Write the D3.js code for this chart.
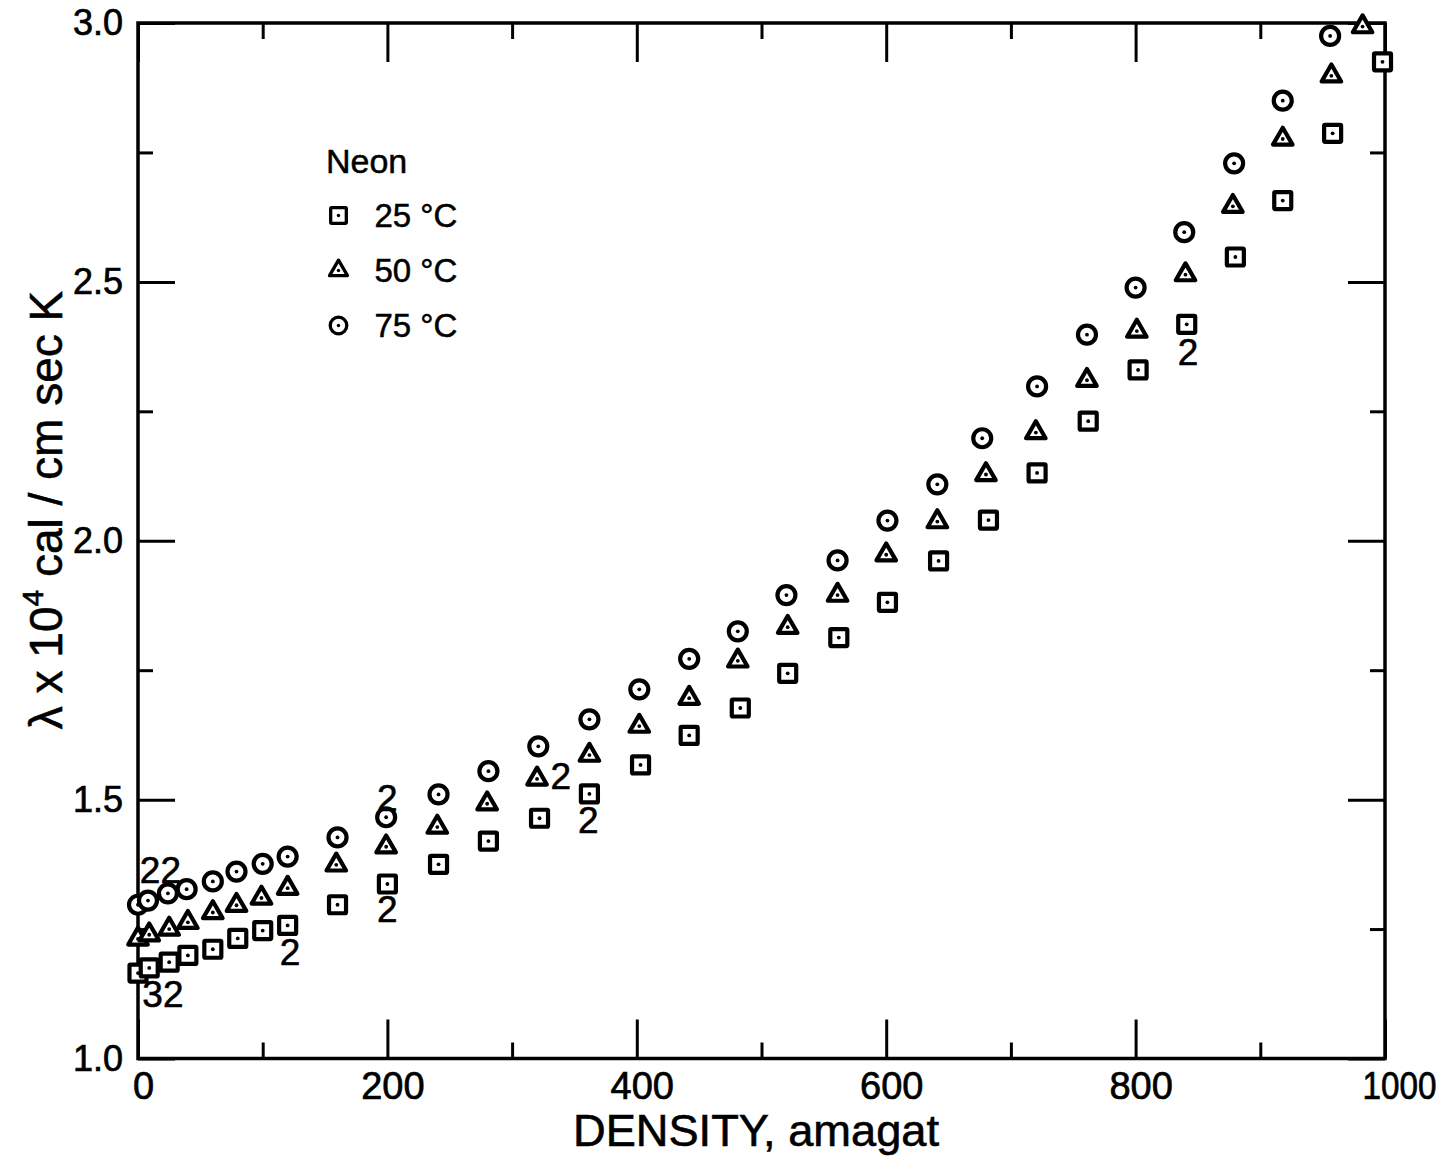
<!DOCTYPE html>
<html><head><meta charset="utf-8">
<script src="https://cdn.jsdelivr.net/npm/d3@7"></script>
<style>body{margin:0;background:#fff}</style>
</head><body>
<svg id="chart" width="1452" height="1161"></svg>
<script>
// ---- data ----
const density25 = [0,9,25,40,60,80,100,120,160,200,241,281,322,362,403,442,483,521,562,601,642,682,721,762,802,841,880,918,958,998];
const lambda25  = [1.165,1.175,1.186,1.199,1.211,1.232,1.247,1.257,1.297,1.337,1.375,1.420,1.464,1.511,1.567,1.624,1.677,1.744,1.813,1.881,1.961,2.040,2.131,2.231,2.330,2.418,2.548,2.657,2.787,2.925];
const density50 = [0,9,25,40,60,79,99,120,159,199,240,280,320,362,402,442,481,521,561,600,641,680,720,761,801,840,878,918,957,982];
const lambda50  = [1.231,1.239,1.250,1.263,1.282,1.296,1.310,1.329,1.374,1.409,1.447,1.492,1.540,1.586,1.642,1.696,1.768,1.833,1.895,1.973,2.037,2.128,2.209,2.310,2.405,2.514,2.646,2.776,2.898,2.993];
const density75 = [0,8,24,39,60,79,100,120,160,199,241,281,321,362,402,442,481,520,561,601,641,677,721,761,800,839,879,918,956];
const lambda75  = [1.297,1.305,1.319,1.327,1.342,1.361,1.376,1.390,1.427,1.466,1.510,1.555,1.603,1.655,1.713,1.772,1.825,1.895,1.962,2.039,2.109,2.198,2.298,2.398,2.489,2.596,2.729,2.850,2.975];

// multiplicity annotations: label, density, lambda
const noteLabels  = ["22","32","2","2","2","2","2","2"];
const noteDensity = [18,20,122,200,200,339,361,842];
const noteLambda  = [1.364,1.126,1.206,1.289,1.503,1.547,1.461,2.365];

const xTicksMajor = [0,200,400,600,800,1000];
const xTicksMinor = [100,300,500,700,900];
const yTicksMajor = [1.0,1.5,2.0,2.5,3.0];
const yTicksMinor = [1.25,1.75,2.25,2.75];
const xTickLabels = ["0","200","400","600","800","1000"];
const yTickLabels = ["1.0","1.5","2.0","2.5","3.0"];

const legendTitle = "Neon";
const seriesLabels = ["25 °C","50 °C","75 °C"];
const seriesShapes = ["square","triangle","circle"];
const xTitle = "DENSITY, amagat";

// ---- drawing ----
const svg = d3.select("#chart");
const L = 138, R = 1385, T = 23, B = 1058.5;
const x = d3.scaleLinear().domain([0,1000]).range([L,R]);
const y = d3.scaleLinear().domain([1,3]).range([B,T]);
const sans = "'Liberation Sans',Arial,sans-serif";

function styleAxis(g){
  g.select(".domain").remove();
  g.selectAll(".tick line").attr("stroke","#000").attr("stroke-width",3);
  g.selectAll("text").attr("fill","#000").attr("font-family",sans)
    .attr("stroke","#000").attr("stroke-width",0.7);
}
const fmtX = (d)=> xTickLabels[xTicksMajor.indexOf(d)];
const fmtY = (d)=> yTickLabels[yTicksMajor.findIndex(v=>Math.abs(v-d)<1e-9)];

// bottom
const bx = svg.append("g").attr("transform",`translate(0,${B})`)
  .call(d3.axisBottom(x).tickValues(xTicksMajor).tickSize(-39).tickPadding(14).tickFormat(fmtX)).call(styleAxis);
bx.selectAll("text").attr("font-size",38).attr("dx",5)
  .filter(d=>d===1000).attr("textLength",74).attr("lengthAdjust","spacingAndGlyphs").attr("dx",14);
svg.append("g").attr("transform",`translate(0,${B})`)
  .call(d3.axisBottom(x).tickValues(xTicksMinor).tickSize(-16).tickFormat("")).call(styleAxis);
// top
svg.append("g").attr("transform",`translate(0,${T})`)
  .call(d3.axisTop(x).tickValues(xTicksMajor).tickSize(-39).tickFormat("")).call(styleAxis);
svg.append("g").attr("transform",`translate(0,${T})`)
  .call(d3.axisTop(x).tickValues(xTicksMinor).tickSize(-16).tickFormat("")).call(styleAxis);
// left
const ly = svg.append("g").attr("transform",`translate(${L},0)`)
  .call(d3.axisLeft(y).tickValues(yTicksMajor).tickSize(-37).tickPadding(15).tickFormat(fmtY)).call(styleAxis);
ly.selectAll("text").attr("font-size",36);
svg.append("g").attr("transform",`translate(${L},0)`)
  .call(d3.axisLeft(y).tickValues(yTicksMinor).tickSize(-15).tickFormat("")).call(styleAxis);
// right
svg.append("g").attr("transform",`translate(${R},0)`)
  .call(d3.axisRight(y).tickValues(yTicksMajor).tickSize(-37).tickFormat("")).call(styleAxis);
svg.append("g").attr("transform",`translate(${R},0)`)
  .call(d3.axisRight(y).tickValues(yTicksMinor).tickSize(-15).tickFormat("")).call(styleAxis);

// frame
svg.append("rect").attr("x",L).attr("y",T).attr("width",R-L).attr("height",B-T)
  .attr("fill","none").attr("stroke","#000").attr("stroke-width",3.5);

// axis titles
svg.append("text").attr("x",756).attr("y",1146).attr("text-anchor","middle")
  .attr("font-family",sans).attr("font-size",44).attr("textLength",366)
  .attr("lengthAdjust","spacingAndGlyphs").attr("stroke","#000").attr("stroke-width",0.6)
  .text(xTitle);

const yt = svg.append("text").attr("transform","translate(62,510) rotate(-90)")
  .attr("text-anchor","middle").attr("font-family",sans).attr("font-size",46)
  .attr("stroke","#000").attr("stroke-width",0.6);
yt.append("tspan").text("λ x 10");
yt.append("tspan").attr("font-size",30).attr("dy",-19).text("4");
yt.append("tspan").attr("dy",19).text(" cal / cm sec K");

// markers
function drawMarker(g, shape, scale, sw){
  const s = scale || 1;
  if (shape==="square"){
    g.append("rect").attr("x",-8.5*s).attr("y",-8.5*s).attr("width",17*s).attr("height",17*s)
      .attr("rx",1).attr("fill","#fff").attr("stroke","#000").attr("stroke-width",sw);
  } else if (shape==="triangle"){
    g.append("path").attr("d",d3.symbol(d3.symbolTriangle, 165*s*s)())
      .attr("fill","#fff").attr("stroke","#000").attr("stroke-width",sw).attr("stroke-linejoin","round");
  } else {
    g.append("circle").attr("r",9*s).attr("fill","#fff").attr("stroke","#000").attr("stroke-width",sw);
  }
  g.append("circle").attr("r",1.9*s).attr("fill","#000");
}

const series = [
  {dens: density25, lam: lambda25, shape: "square"},
  {dens: density50, lam: lambda50, shape: "triangle"},
  {dens: density75, lam: lambda75, shape: "circle"}
];
series.forEach(sr=>{
  const pts = sr.dens.map((d,i)=>({d, v: sr.lam[i]}));
  svg.append("g").selectAll("g").data(pts).join("g")
    .attr("transform",p=>`translate(${x(p.d)},${y(p.v)})`)
    .each(function(){ drawMarker(d3.select(this), sr.shape, 1, 4.2); });
});

// annotations
svg.append("g").selectAll("text").data(noteLabels.map((t,i)=>({t, d: noteDensity[i], v: noteLambda[i]})))
  .join("text").attr("x",p=>x(p.d)).attr("y",p=>y(p.v)).attr("dy","0.36em")
  .attr("text-anchor","middle").attr("font-family",sans).attr("font-size",37)
  .attr("stroke","#000").attr("stroke-width",0.6).text(p=>p.t);

// legend
svg.append("text").attr("x",326).attr("y",173).attr("font-family",sans).attr("font-size",34)
  .attr("stroke","#000").attr("stroke-width",0.5).text(legendTitle);
const leg = svg.append("g").selectAll("g").data(seriesLabels.map((t,i)=>({t, shape: seriesShapes[i], i})))
  .join("g").attr("transform",p=>`translate(338.5,${215.5 + p.i*55})`);
leg.each(function(p){ drawMarker(d3.select(this), p.shape, 0.92, 3.3); });
leg.append("text").attr("x",36).attr("y",11.5).attr("font-family",sans).attr("font-size",33)
  .attr("stroke","#000").attr("stroke-width",0.5).text(p=>p.t);
</script>
</body></html>
